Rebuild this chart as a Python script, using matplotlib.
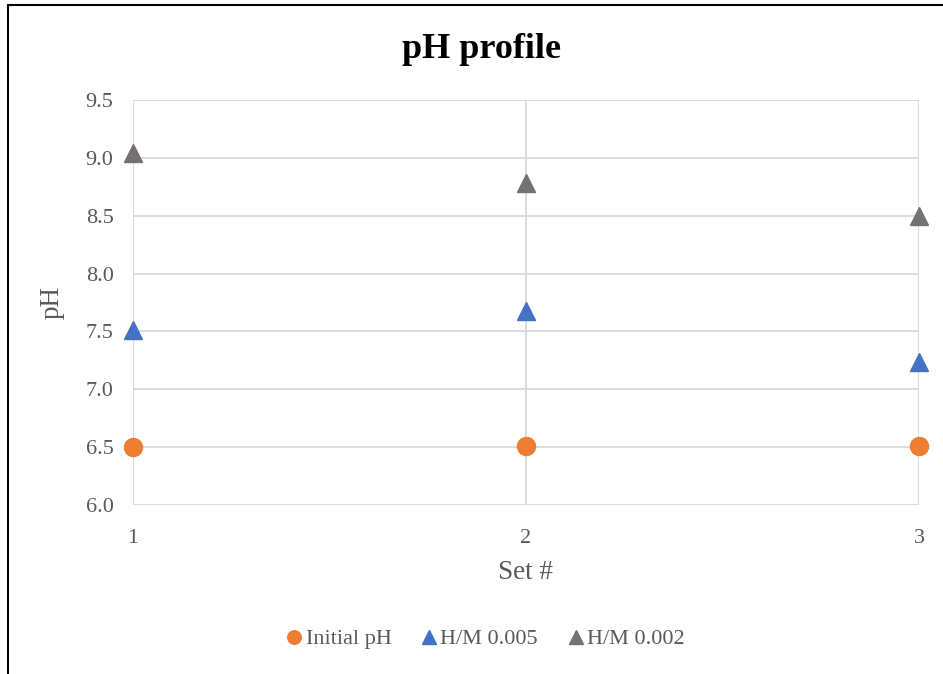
import matplotlib.pyplot as plt
from matplotlib.patches import Rectangle

sets = [1, 2, 3]
initial_ph = [6.50, 6.51, 6.51]
hm_0005 = [7.51, 7.68, 7.24]
hm_0002 = [9.04, 8.78, 8.50]

plt.rcParams['font.family'] = ['Liberation Serif', 'DejaVu Serif']

fig = plt.figure(figsize=(9.43, 6.74), dpi=100)
# chart border (only left and top edges are visible in the picture)
fig.add_artist(Rectangle((8 / 943, -0.1), 1.2, 1.1 - 5 / 674,
                         transform=fig.transFigure, fill=False,
                         edgecolor='black', linewidth=1.5))
ax = fig.add_axes([133 / 943, 1 - 505 / 674, (919 - 133) / 943, (505 - 100) / 674])

ax.plot(sets, initial_ph, 'o', color='#ED7D31', markersize=13, label='Initial pH', clip_on=False, zorder=3)
ax.plot(sets, hm_0005, '^', color='#4472C4', markersize=13, label='H/M 0.005', clip_on=False, zorder=3)
ax.plot(sets, hm_0002, '^', color='#767171', markersize=13, label='H/M 0.002', clip_on=False, zorder=3)

ax.set_xlim(1, 3)
ax.set_ylim(6.0, 9.5)
ax.set_xticks([1, 2, 3])
ax.set_yticks([6.0 + 0.5 * i for i in range(8)])
ax.set_yticklabels([f'{6.0 + 0.5 * i:.1f}' for i in range(8)])
ax.grid(True, color='#d9d9d9', linewidth=1.3)
ax.set_axisbelow(True)
for s in ax.spines.values():
    s.set_visible(False)
ax.tick_params(length=0, labelsize=16, colors='#595959', pad=14)
ax.tick_params(axis='x', pad=17)

ax.set_xlabel('Set #', fontsize=19.5, color='#595959', labelpad=9)
ax.set_ylabel('pH', fontsize=19.5, color='#595959', labelpad=15)
fig.text(482 / 943, 1 - 50 / 674, 'pH profile', fontsize=26, fontweight='bold',
         ha='center', va='center')

fig.legend(loc='center', bbox_to_anchor=(485 / 943, 1 - 639 / 674), ncol=3,
           frameon=False, fontsize=16, handlelength=0.8, handletextpad=0.1,
           columnspacing=1.3, markerscale=0.75, labelcolor='#595959')

fig.savefig('out.png', dpi=100)
